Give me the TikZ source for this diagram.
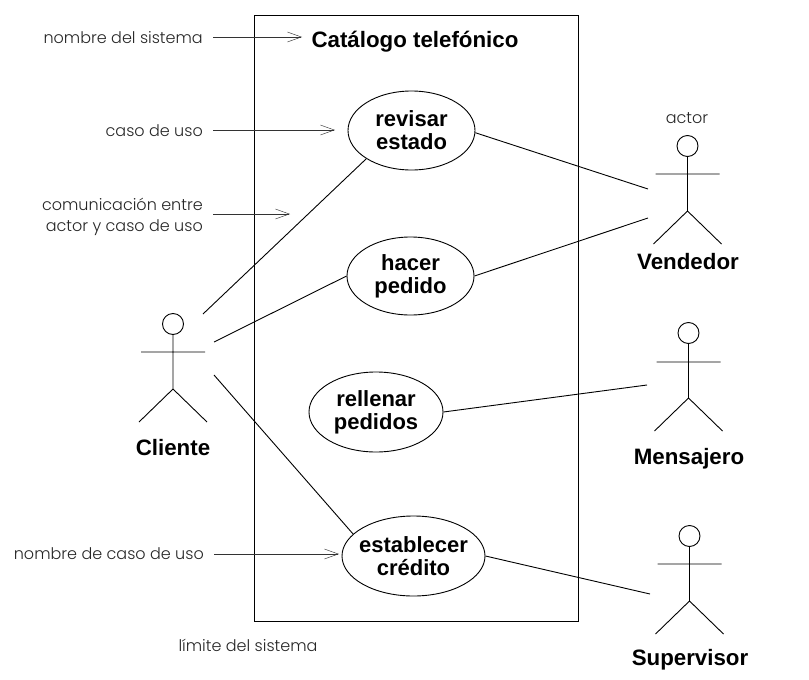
\documentclass[tikz,border=0pt]{standalone}
\usepackage{fontspec}
\usetikzlibrary{shapes.geometric,arrows.meta}
\setmainfont{Liberation Sans}
\newfontfamily\thinlabel{Poppins Light}
\tikzset{
  x=1pt,y=-1pt,
  usecase/.style={draw,ellipse,line width=0.9pt,inner sep=0pt,align=center,font=\bfseries\fontsize{22}{23}\selectfont},
  actorhead/.style={draw,circle,line width=0.9pt,minimum size=21pt,inner sep=0pt},
  actorline/.style={line width=0.9pt},
  assoc/.style={line width=0.9pt},
  actorname/.style={font=\bfseries\fontsize{22.3}{24}\selectfont,inner sep=0pt},
  note/.style={font=\thinlabel\fontsize{16}{21}\selectfont,text=black!85,inner sep=0pt,align=right},
  pointer/.style={line width=0.45pt,black!80,-{Straight Barb[length=14pt,width=10pt,line width=0.45pt]}},
}
\newcommand{\stickman}[5]{% name, x, head y, arms y, hip y
  \node[actorhead] (#1h) at (#2,#3) {};
  \coordinate (#1hip) at (#2,#5);
  \coordinate (#1al) at ({#2-32},#4);
  \coordinate (#1ar) at ({#2+32},#4);
  \coordinate (#1ll) at ({#2-34},{#5+33});
  \coordinate (#1lr) at ({#2+34},{#5+33});
  \draw[actorline] (#1h) -- (#1hip) (#1al) -- (#1ar) (#1ll) -- (#1hip) -- (#1lr);
}
\begin{document}
\begin{tikzpicture}
\useasboundingbox (0,0) rectangle (809,680);
\draw[line width=1pt] (254,15) rectangle (578,621);
\node[font=\bfseries\fontsize{22.3}{24}\selectfont,inner sep=0pt] (title) at (415,42) {Catálogo telefónico};

\node[usecase,minimum width=127pt,minimum height=79pt] (rev) at (411.5,130.5) {revisar\\estado};
\node[usecase,minimum width=127pt,minimum height=78pt] (hac) at (410.5,276) {hacer\\pedido};
\node[usecase,minimum width=134pt,minimum height=80pt] (rel) at (376,412) {rellenar\\pedidos};
\node[usecase,inner xsep=-5pt,minimum width=143pt,minimum height=80pt] (est) at (413.5,556) {establecer\\crédito};

\stickman{cli}{173}{324}{352}{389}
\stickman{ven}{687.5}{146}{174}{211}
\stickman{men}{688.5}{333}{362}{398}
\stickman{sup}{689.5}{536}{564}{601}

\node[actorname] (clin) at (173,448) {Cliente};
\node[actorname] (venn) at (688,262) {Vendedor};
\node[actorname] (menn) at (689,459) {Mensajero};
\node[actorname] (supn) at (690,660) {Supervisor};

\coordinate (c1) at (203,314);
\coordinate (c2) at (214,342);
\coordinate (c3) at (214,375);
\coordinate (v1) at (648,189);
\coordinate (v2) at (648,218);
\coordinate (m1) at (647,385);
\coordinate (s1) at (650,594);
\draw[assoc] (rev.212) -- (c1);
\draw[assoc] (hac.180) -- (c2);
\draw[assoc] (est.160) -- (c3);
\draw[assoc] (rev.358) -- (v1);
\draw[assoc] (hac.0) -- (v2);
\draw[assoc] (rel.0) -- (m1);
\draw[assoc] (est.0) -- (s1);

\node[note,anchor=east] (n1) at (203,38) {nombre del sistema};
\node[note,anchor=east] (n2) at (203,131) {caso de uso};
\node[note,anchor=east] (n3) at (203,217) {comunicación entre\\actor y caso de uso};
\node[note,anchor=east] (n4) at (204,554) {nombre de caso de uso};
\node[note] (n5) at (248,645) {límite del sistema};
\node[note] (n6) at (687,118) {actor};

\coordinate (a1) at (302,37);
\coordinate (a2) at (335,130);
\coordinate (a3) at (290,214);
\coordinate (a4) at (339,554);
\coordinate (b1) at (213,37);
\coordinate (b2) at (213,130);
\coordinate (b3) at (213,214);
\coordinate (b4) at (214,554);
\draw[pointer] (b1) -- (a1);
\draw[pointer] (b2) -- (a2);
\draw[pointer] (b3) -- (a3);
\draw[pointer] (b4) -- (a4);
\end{tikzpicture}
\end{document}
